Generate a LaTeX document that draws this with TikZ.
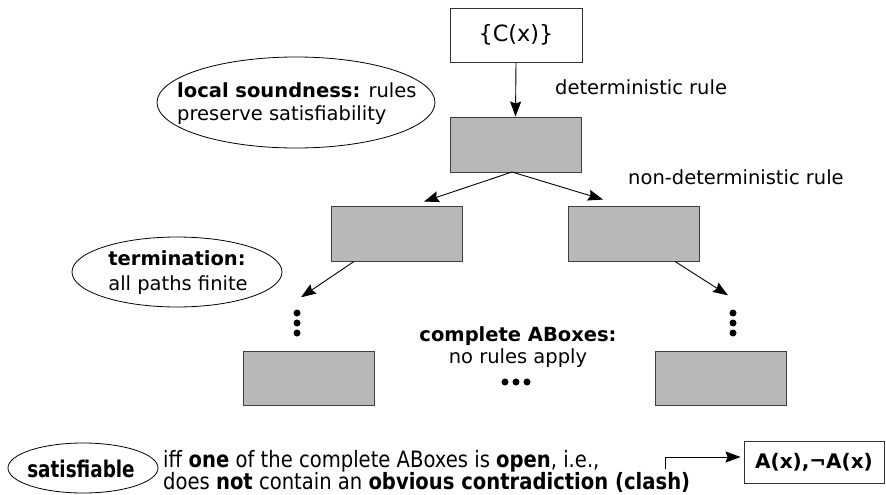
\documentclass[tikz,border=0pt]{standalone}
\usepackage{fontspec}
\setmainfont{DejaVu Sans}
\newfontfamily\condfont[FakeStretch=0.87]{DejaVu Sans}
\newfontfamily\satfont[FakeStretch=0.8]{DejaVu Sans}
\usetikzlibrary{arrows.meta,shapes.geometric,calc}
\begin{document}
\begin{tikzpicture}[x=1pt,y=-1pt,
  every node/.style={font=\fontsize{19.5}{23}\selectfont, inner sep=0pt},
  gbox/.style={draw=black!75, fill=black!28, minimum width=131pt, minimum height=55pt, line width=0.9pt},
  wbox/.style={draw=black!80, fill=white, line width=0.9pt},
  oval/.style={draw, ellipse, line width=0.8pt},
  arr/.style={-{Stealth[length=15pt,width=11pt,inset=2pt]}, line width=0.9pt},
  dotf/.style={fill=black, circle, minimum size=7pt},
  bt/.style={font=\condfont\fontsize{22.5}{22}\selectfont}
]
\useasboundingbox (0,0) rectangle (886,495);

% boxes
\node[wbox, minimum width=132pt, minimum height=54pt, font=\fontsize{22.4}{26}\selectfont] (c0) at (516,35) {\{C(x)\}};
\node[gbox] (g1) at (515.5,144.5) {};
\node[gbox] (g2) at (397,233.5) {};
\node[gbox] (g3) at (633.5,233.5) {};
\node[gbox, minimum height=54pt] (g4) at (308.5,378) {};
\node[gbox, minimum height=54pt] (g5) at (720.5,378) {};

% local soundness
\node[oval, minimum width=278pt, minimum height=91pt] (ls) at (296,102.5) {};
\node[anchor=base west] (ls1) at (177,97) {\textbf{local soundness:} rules};
\node[anchor=base west] (ls2) at (177,120) {preserve satisfiability};

% termination
\node[oval, minimum width=210pt, minimum height=70pt] (tm) at (177,272) {};
\node[anchor=base] (tm1) at (177,265) {\textbf{termination:}};
\node[anchor=base] (tm2) at (178,290) {all paths finite};

% rule labels
\node[anchor=base west] (det) at (555,94) {deterministic rule};
\node[anchor=base west] (nd) at (628,184) {non-deterministic rule};

% complete ABoxes
\node[anchor=base] (cab1) at (518,341) {\textbf{complete ABoxes:}};
\node[anchor=base] (cab2) at (518,363) {no rules apply};

% dots
\node[dotf] (l1) at (297,313) {};
\node[dotf] (l2) at (297,323) {};
\node[dotf] (l3) at (297,333) {};
\node[dotf] (r1) at (733,313) {};
\node[dotf] (r2) at (733,323) {};
\node[dotf] (r3) at (733,333) {};
\node[dotf] (h1) at (505,382) {};
\node[dotf] (h2) at (516,382) {};
\node[dotf] (h3) at (527,382) {};

% arrows
\coordinate (ap) at (512,172);
\draw[arr] (c0.south) -- (g1.north);
\draw[arr] (ap) -- ([xshift=27pt,yshift=4pt]g2.north);
\draw[arr] (ap) -- ([xshift=-30.5pt,yshift=6pt]g3.north);
\draw[arr] ([xshift=-43pt]g2.south) -- ([xshift=4pt,yshift=12pt]l1.north);
\draw[arr] ([xshift=41.5pt]g3.south) -- ([xshift=-5pt,yshift=14pt]r1.north);

% bottom
\node[oval, minimum width=150pt, minimum height=50pt] (sat) at (83,468) {};
\node[anchor=base, font=\satfont\fontsize{23}{22}\selectfont\bfseries] (satt) at (81,477) {satisfiable};
\node[anchor=base west, bt] (iff1) at (163,467) {iff \textbf{one} of the complete ABoxes is \textbf{open}, i.e.,};
\node[anchor=base west, bt] (iff2) at (163,489) {does \textbf{not} contain an \textbf{obvious contradiction (clash)}};
\node[wbox, minimum width=140pt, minimum height=42pt, font=\fontsize{20}{24}\selectfont\bfseries] (ax) at (814,462) {A(x),¬A(x)};
\coordinate (el) at (665,469);
\draw[arr] (el) |- ([yshift=5pt,xshift=-3pt]ax.west);
\end{tikzpicture}
\end{document}
